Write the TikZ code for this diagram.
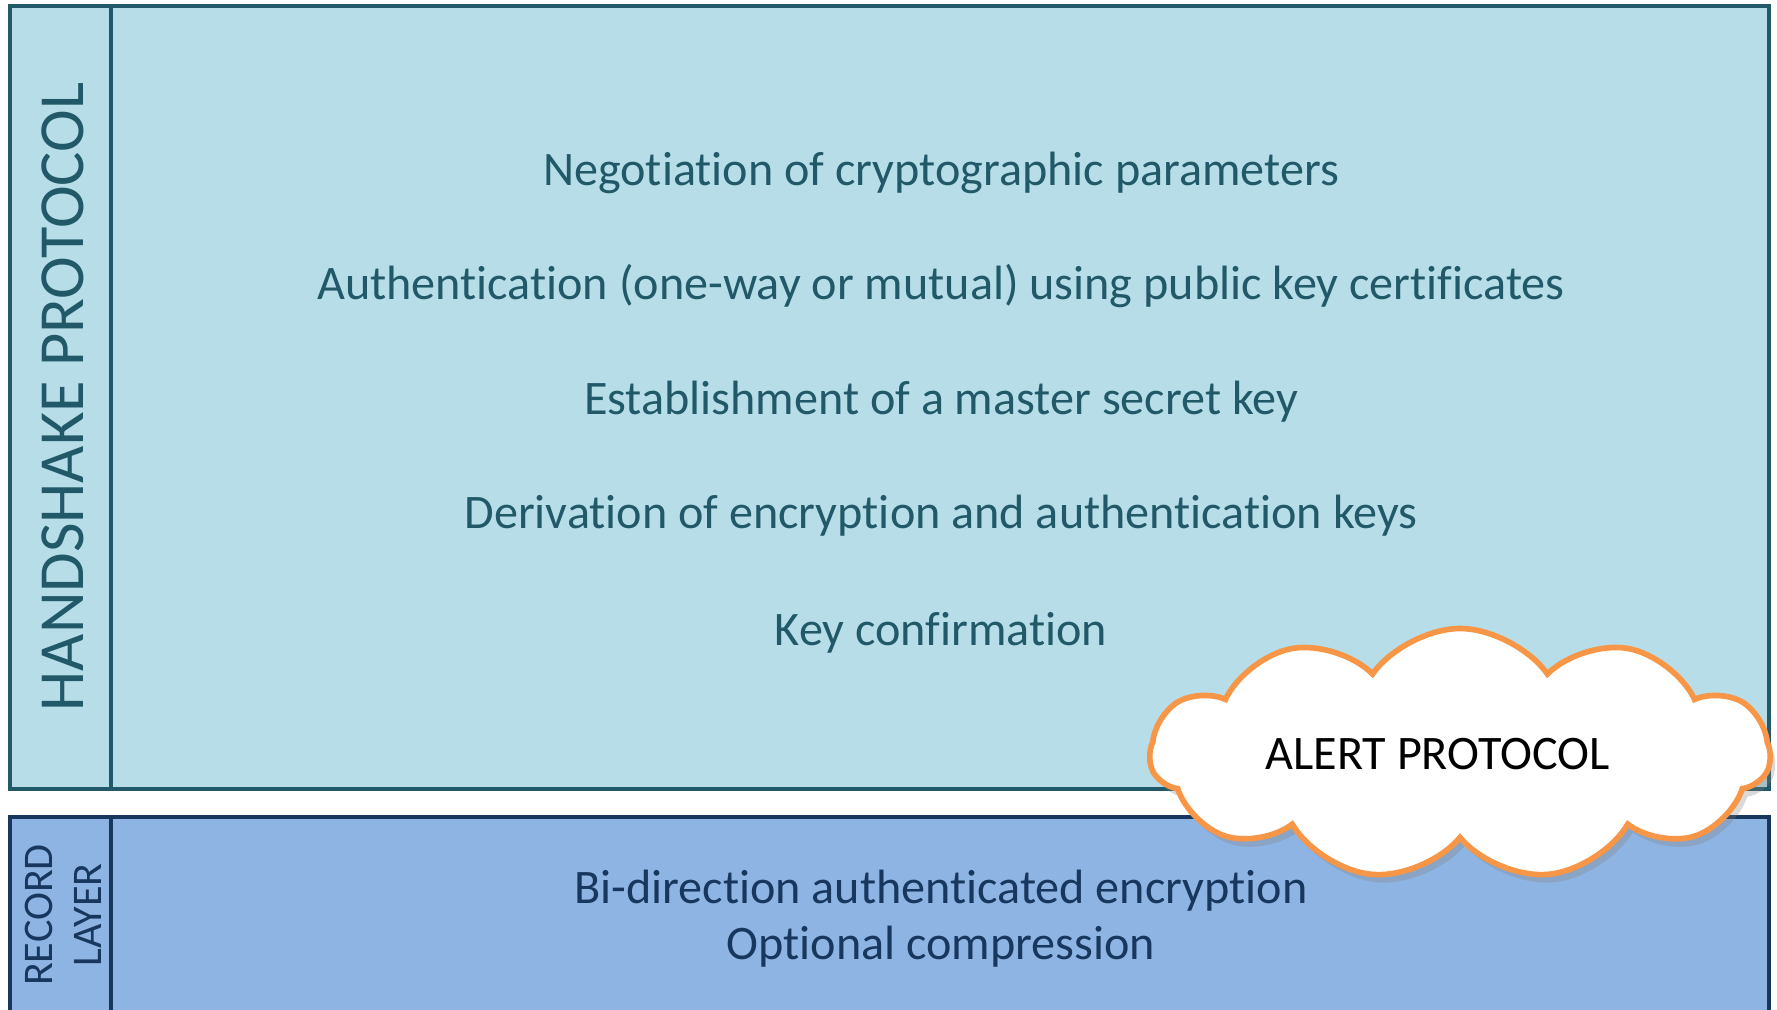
\documentclass[tikz,border=0pt]{standalone}
\usepackage{fontspec}
\setmainfont{Carlito}[Ligatures=NoCommon]
\usetikzlibrary{shapes.symbols,shadows,positioning}
\definecolor{hsfill}{HTML}{B7DDE8}
\definecolor{hsline}{HTML}{215968}
\definecolor{rlfill}{HTML}{8EB4E3}
\definecolor{rlline}{HTML}{17375E}
\definecolor{alertline}{HTML}{F79646}
\tikzstyle{hsbox}=[draw=hsline,fill=hsfill,line width=1.2pt]
\tikzstyle{rlbox}=[draw=rlline,fill=rlfill,line width=1.2pt]
\tikzstyle{hsitem}=[text=hsline,font=\fontsize{13.7}{16}\selectfont,anchor=base]
\tikzstyle{rlitem}=[text=rlline,font=\fontsize{13.7}{16}\selectfont,anchor=base]
\tikzstyle{sidetitle}=[rotate=90,align=center]
\tikzstyle{alertcloud}=[cloud,cloud puffs=11,cloud puff arc=110,aspect=3.1,
  draw=alertline,fill=white,line width=1.6pt,minimum width=6.2cm,minimum height=1.95cm,
  drop shadow={opacity=0.3,shadow xshift=0.5mm,shadow yshift=-0.8mm},
  font=\fontsize{13.7}{16}\selectfont,inner sep=0pt]
\begin{document}
\begin{tikzpicture}
  \useasboundingbox (0,0) rectangle (17.77,-10.09);
  \clip (0,0) rectangle (17.77,-10.09);

  % handshake protocol
  \draw[hsbox] (0.10,-0.06) rectangle (17.69,-7.89);
  \draw[hsbox] (1.11,-0.06) -- (1.11,-7.89);
  \node[sidetitle,text=hsline,font=\fontsize{18.3}{21}\selectfont] (hs) at (0.63,-3.97) {HANDSHAKE PROTOCOL};
  \node[hsitem] (nego) at (9.41,-1.85) {Negotiation of cryptographic parameters};
  \node[hsitem] (auth) at (9.41,-2.99) {Authentication (one-way or mutual) using public key certificates};
  \node[hsitem] (master) at (9.41,-4.14) {Establishment of a master secret key};
  \node[hsitem] (deriv) at (9.41,-5.28) {Derivation of encryption and authentication keys};
  \node[hsitem] (confirm) at (9.41,-6.45) {Key confirmation};

  % record layer
  \draw[rlbox] (0.10,-8.17) rectangle (17.69,-10.30);
  \draw[rlbox] (1.11,-8.17) -- (1.11,-10.30);
  \node[sidetitle,text=rlline,font=\fontsize{12}{14}\selectfont] (rl) at (0.63,-9.15) {RECORD\\LAYER};
  \node[rlitem] (enc) at (9.41,-9.03) {Bi-direction authenticated encryption};
  \node[rlitem] (comp) at (9.41,-9.59) {Optional compression};

  % alert protocol
  \node[alertcloud] (alert) at (14.60,-7.54) {ALERT PROTOCOL\hspace*{0.45cm}};
\end{tikzpicture}
\end{document}
